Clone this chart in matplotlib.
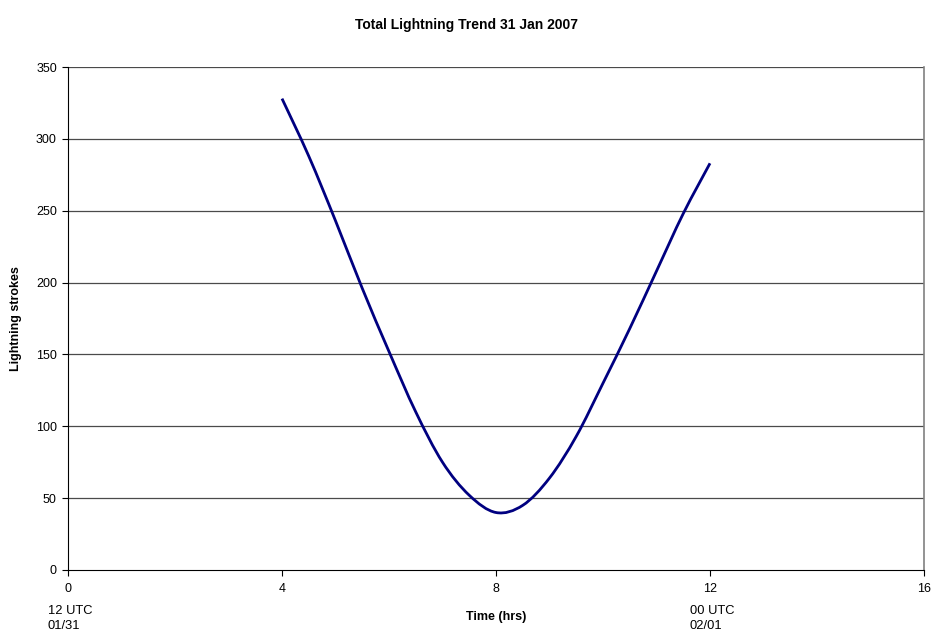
import numpy as np
import matplotlib
matplotlib.use("Agg")
import matplotlib.pyplot as plt
from matplotlib.path import Path
from matplotlib.patches import PathPatch

plt.rcParams['font.family'] = ['Liberation Sans', 'DejaVu Sans']

# Lightning strokes, half-hour steps (hours after 12 UTC 01/31)
hours = [4.0, 4.5, 5.0, 5.5, 6.0, 6.5, 7.0, 7.5, 8.0, 8.5,
         9.0, 9.5, 10.0, 10.5, 11.0, 11.5, 12.0]
strokes = [328, 288, 243, 196, 152, 110, 75, 52, 40, 45,
           64, 93, 130, 168, 208, 248, 283]

x_ticks = [0, 4, 8, 12, 16]
y_ticks = [0, 50, 100, 150, 200, 250, 300, 350]
time_notes = {0: "12 UTC\n01/31", 12: "00 UTC\n02/01"}


def smooth_path(xs, ys):
    # spreadsheet-style smoothed line: cubic Bezier through every point
    pts = np.column_stack([xs, ys]).astype(float)
    n = len(pts)
    verts = [pts[0]]
    codes = [Path.MOVETO]
    for i in range(n - 1):
        p0 = pts[max(i - 1, 0)]
        p1 = pts[i]
        p2 = pts[i + 1]
        p3 = pts[min(i + 2, n - 1)]
        c1 = p1 + (p2 - p0) / 6.0
        c2 = p2 - (p3 - p1) / 6.0
        verts += [c1, c2, p2]
        codes += [Path.CURVE4] * 3
    return Path(verts, codes)


fig = plt.figure(figsize=(9.33, 6.32), dpi=100)
ax = fig.add_axes([68 / 933, 62 / 632, 856 / 933, 503 / 632])

ax.set_xlim(0, 16)
ax.set_ylim(0, 350)

for y in y_ticks[1:]:
    ax.axhline(y, color='#4a4a4a', lw=0.9, zorder=1)

line = PathPatch(smooth_path(hours, strokes), facecolor='none',
                 edgecolor='#000080', lw=2.0, zorder=3,
                 capstyle='butt', joinstyle='round')
ax.add_patch(line)

ax.spines['left'].set_color('black')
ax.spines['bottom'].set_color('black')
ax.spines['top'].set_visible(False)
ax.spines['right'].set_color('#808080')
ax.spines['right'].set_linewidth(1.2)

ax.set_xticks(x_ticks)
ax.set_yticks(y_ticks)
ax.tick_params(axis='both', direction='out', length=4, width=0.8,
               labelsize=9, color='black')
ax.tick_params(axis='x', pad=5)
ax.tick_params(axis='y', pad=4)

# start/end times written under their hour ticks
for xv, note in time_notes.items():
    ax.annotate(note, xy=(xv, 0), xycoords='data', xytext=(-14.4, -25),
                textcoords='offset points', ha='left', va='top',
                fontsize=9.3, linespacing=1.4)

ax.set_xlabel("Time (hrs)", fontsize=9, fontweight='bold', labelpad=12)
ax.set_ylabel("Lightning strokes", fontsize=9, fontweight='bold', labelpad=10)
fig.suptitle("Total Lightning Trend 31 Jan 2007", fontsize=10,
             fontweight='bold', y=0.972)

fig.savefig("out.png", dpi=100)
